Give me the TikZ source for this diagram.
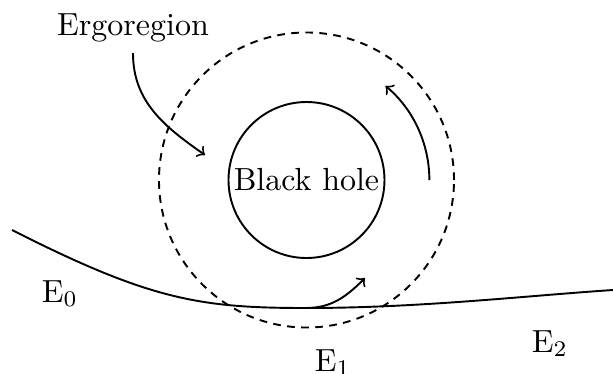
\documentclass[tikz,border=0pt]{standalone}
\usepackage{amsmath,amssymb}
\begin{document}
\begin{tikzpicture}[x=0.3125pt,y=-0.3125pt,semithick]
\useasboundingbox (0,0) rectangle (613,374);
%Start with the hole, then put the ergoregion round it
% and draw the path of the particle under both
\node[draw,circle,minimum size=48.75pt,inner sep=0pt] (bh) at (306.5,180) {Black hole};
\draw[dash pattern=on 2.4pt off 2pt] (bh.center) circle[radius=46.1pt];
\node[anchor=base] (ergo) at (133,35) {Ergoregion};
\node[anchor=base] (e0) at (60,302) {E$_0$};
\node[anchor=base] (e1) at (333,371) {E$_1$};
\node[anchor=base] (e2) at (550,352) {E$_2$};
\coordinate (west) at (12,230);
\coordinate (hit) at (306,308);
\coordinate (east) at (613,290);
\coordinate (ergotip) at (205,155);
\coordinate (kick) at (365,278);
% the incoming particle splits at (hit)
\draw (west) .. controls +(138,70) and +(-106,0) .. (hit)
             .. controls +(114,0) and +(-90,6) .. (east);
\draw[->] (ergo.south) to[out=-90,in=145] (ergotip);
\draw[->] (hit) to[out=0,in=-135] (kick);
% rotation of the hole
\draw[->] (bh.center) ++(0:38.4pt) arc[start angle=0,end angle=50,radius=38.4pt];
\end{tikzpicture}
\end{document}
